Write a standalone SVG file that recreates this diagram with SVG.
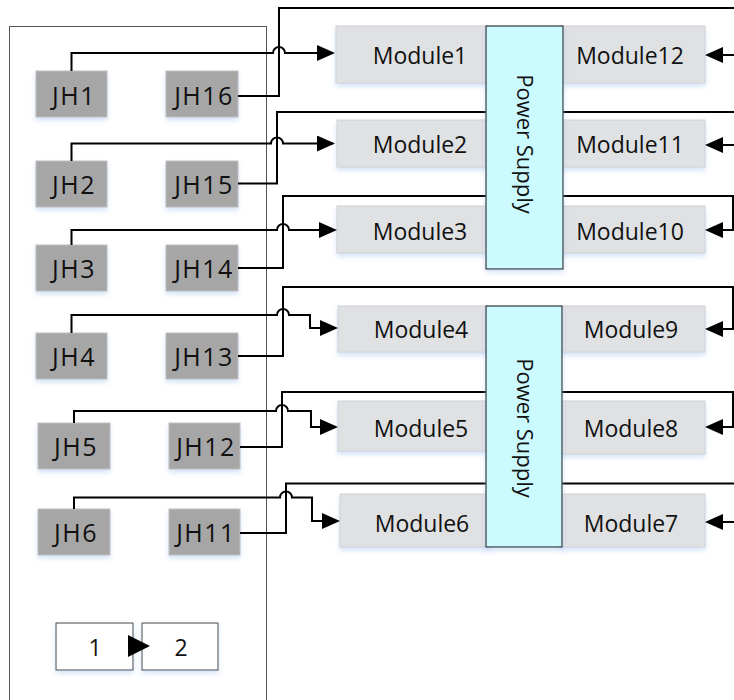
<svg xmlns="http://www.w3.org/2000/svg" width="734" height="700" viewBox="0 0 734 700">
<style>
.panel{fill:#fff;stroke:#555;stroke-width:1}
.jh{fill:#a6a6a6;stroke:#bfbfbf;stroke-width:1;filter:url(#sh)}
.mod{fill:#dfe1e3;stroke:#d0d2d4;stroke-width:1;filter:url(#sh)}
.ps{fill:#ccfbff;stroke:#333;stroke-width:1.2;filter:url(#sh)}
.sm{fill:#fff;stroke:#444;stroke-width:1;filter:url(#sh)}
.conn{fill:none;stroke:#000;stroke-width:2;stroke-linejoin:miter}
.arr{marker-end:url(#ah)}
text{font-family:"Open Sans","Noto Sans","Liberation Sans",sans-serif;font-weight:500;fill:#111}
.tjh{font-size:25px;letter-spacing:1.5px;text-anchor:middle}
.tm{font-size:23px;text-anchor:middle}
.tps{font-size:22px;text-anchor:middle}
</style>
<defs>
<filter id="sh" x="-20%" y="-20%" width="140%" height="150%">
<feDropShadow dx="0" dy="3" stdDeviation="2.5" flood-color="#9fc3ee" flood-opacity="0.45"/>
</filter>
<marker id="ah" viewBox="0 0 18 16" markerWidth="18" markerHeight="16" refX="16" refY="8" orient="auto" markerUnits="userSpaceOnUse">
<path d="M0,0 L18,8 L0,16 z" fill="#000"/>
</marker>
<marker id="ahL" viewBox="0 0 22 22" markerWidth="22" markerHeight="22" refX="22" refY="11" orient="auto" markerUnits="userSpaceOnUse">
<path d="M0,0 L22,11 L0,22 z" fill="#000"/>
</marker>
</defs>

<rect class="panel" x="9.5" y="26.5" width="257" height="690"/>

<g id="jh1"><rect class="jh" x="36" y="71" width="71" height="46"/><text class="tjh" x="74" y="105">JH1</text></g>
<g id="jh16"><rect class="jh" x="166" y="71" width="72" height="46"/><text class="tjh" x="204" y="105">JH16</text></g>
<g id="jh2"><rect class="jh" x="36" y="161" width="71" height="46"/><text class="tjh" x="74" y="194">JH2</text></g>
<g id="jh15"><rect class="jh" x="166" y="161" width="72" height="46"/><text class="tjh" x="204" y="194">JH15</text></g>
<g id="jh3"><rect class="jh" x="36" y="245" width="71" height="46"/><text class="tjh" x="74" y="278">JH3</text></g>
<g id="jh14"><rect class="jh" x="166" y="245" width="72" height="46"/><text class="tjh" x="204" y="278">JH14</text></g>
<g id="jh4"><rect class="jh" x="36" y="333" width="71" height="46"/><text class="tjh" x="74" y="366">JH4</text></g>
<g id="jh13"><rect class="jh" x="166" y="333" width="72" height="46"/><text class="tjh" x="204" y="366">JH13</text></g>
<g id="jh5"><rect class="jh" x="38" y="423" width="72" height="46"/><text class="tjh" x="76" y="456">JH5</text></g>
<g id="jh12"><rect class="jh" x="169" y="423" width="71" height="46"/><text class="tjh" x="206" y="456">JH12</text></g>
<g id="jh6"><rect class="jh" x="38" y="509" width="72" height="46"/><text class="tjh" x="76" y="542">JH6</text></g>
<g id="jh11"><rect class="jh" x="169" y="509" width="71" height="46"/><text class="tjh" x="206" y="542">JH11</text></g>

<g id="module1"><rect class="mod" x="336" y="26" width="154" height="57"/><text class="tm" x="420" y="64">Module1</text></g>
<g id="module12"><rect class="mod" x="560" y="26" width="145" height="57"/><text class="tm" x="630" y="64">Module12</text></g>
<g id="module2"><rect class="mod" x="337" y="120" width="153" height="47"/><text class="tm" x="420" y="153">Module2</text></g>
<g id="module11"><rect class="mod" x="560" y="120" width="145" height="47"/><text class="tm" x="630" y="153">Module11</text></g>
<g id="module3"><rect class="mod" x="337" y="206" width="153" height="47"/><text class="tm" x="420" y="240">Module3</text></g>
<g id="module10"><rect class="mod" x="560" y="206" width="145" height="47"/><text class="tm" x="630" y="240">Module10</text></g>
<g id="module4"><rect class="mod" x="338" y="306" width="152" height="46"/><text class="tm" x="421" y="338">Module4</text></g>
<g id="module9"><rect class="mod" x="560" y="306" width="145" height="46"/><text class="tm" x="631" y="338">Module9</text></g>
<g id="module5"><rect class="mod" x="338" y="401" width="152" height="50"/><text class="tm" x="421" y="437">Module5</text></g>
<g id="module8"><rect class="mod" x="560" y="401" width="145" height="53"/><text class="tm" x="631" y="437">Module8</text></g>
<g id="module6"><rect class="mod" x="340" y="494" width="150" height="53"/><text class="tm" x="422" y="532">Module6</text></g>
<g id="module7"><rect class="mod" x="560" y="494" width="145" height="53"/><text class="tm" x="631" y="532">Module7</text></g>

<g id="box1"><rect class="sm" x="56" y="623" width="77" height="47"/><text class="tm" x="95" y="656">1</text></g>
<g id="box2"><rect class="sm" x="142" y="623" width="76" height="47"/><text class="tm" x="181" y="656">2</text></g>

<g id="connectors">
<path class="conn arr" d="M71.5,71 V53 H273 A6,6 0 0 1 285,53 H333"/>
<path class="conn arr" d="M238,96 H279 V8 H745 V55 H707"/>
<path class="conn arr" d="M71.5,161 V143.5 H271 A6,6 0 0 1 283,143.5 H333"/>
<path class="conn arr" d="M238,183.5 H277 V112 H745 V145 H707"/>
<path class="conn arr" d="M71.5,245 V230 H277 A6,6 0 0 1 289,230 H335"/>
<path class="conn arr" d="M238,268 H283 V196 H733 V230 H707"/>
<path class="conn arr" d="M71.5,333 V315 H277 A6,6 0 0 1 289,315 H310 V328 H336"/>
<path class="conn arr" d="M238,356 H283 V287 H733 V329 H707"/>
<path class="conn arr" d="M74,423 V411 H276 A6,6 0 0 1 288,411 H311 V427 H336"/>
<path class="conn arr" d="M240,447 H282 V392 H733 V427 H707"/>
<path class="conn arr" d="M74,509 V497.5 H280 A6,6 0 0 1 292,497.5 H312 V521 H338"/>
<path class="conn arr" d="M240,533 H286 V483.5 H745 V522 H707"/>
<path d="M128,646 H150" fill="none" stroke="none" marker-end="url(#ahL)"/>
</g>

<g id="ps1"><rect class="ps" x="486" y="26" width="77" height="243"/><text class="tps" transform="translate(524,144) rotate(90)" x="0" y="7">Power Supply</text></g>
<g id="ps2"><rect class="ps" x="486" y="306" width="76" height="241"/><text class="tps" transform="translate(524,428) rotate(90)" x="0" y="7">Power Supply</text></g>
</svg>
